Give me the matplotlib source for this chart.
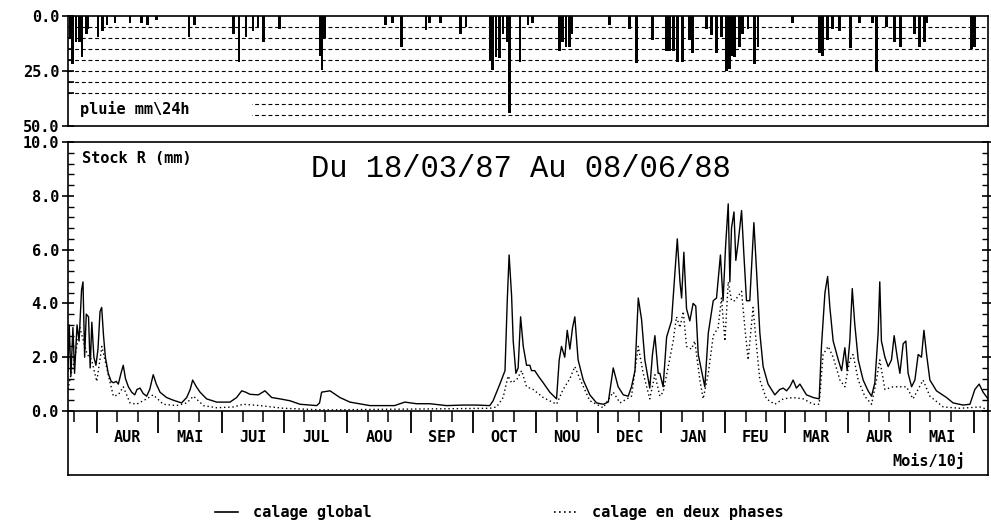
import numpy as np
import matplotlib
matplotlib.use("Agg")
import matplotlib.pyplot as plt
from matplotlib.lines import Line2D
from matplotlib.patches import Rectangle

# ---------------- data (day 0 = 18/03/87) ----------------
rain_day = [1.0, 2.4, 3.9, 5.4, 6.8, 8.8, 9.7, 14.6, 16.6, 19.0, 22.9, 30.2, 36.0, 38.5, 43.3,
            58.9, 61.4, 80.8, 83.3, 86.7, 90.1, 92.5, 95.0, 103.2, 122.7, 123.7, 125.1,
            154.8, 158.2, 162.6, 174.3, 176.2, 181.6, 191.3, 193.8, 205.9, 206.9, 208.4,
            210.3, 211.8, 214.2, 215.2, 220.1, 224.0, 226.4, 239.5, 241.0, 242.5, 244.4,
            245.4, 263.9, 273.6, 277.0, 284.8, 291.6, 293.1, 295.0, 297.0, 299.4, 302.8,
            304.3, 311.1, 313.5, 316.0, 318.4, 320.8, 322.3, 323.3, 324.7, 327.2, 328.6,
            331.1, 334.5, 336.0, 353.0, 366.1, 367.6, 370.0, 372.4, 375.9, 381.2, 385.6,
            391.9, 393.9, 398.7, 402.6, 405.6, 412.4, 414.8, 417.2, 418.2, 440.1, 441.6]
rain_mm = [10, 22, 12, 12, 18.5, 8, 6, 9.4, 7, 4, 3, 3, 3, 4, 2,
           9.4, 4, 8, 20.7, 9.4, 7, 5, 11.7, 6, 18, 24.5, 10,
           4, 3, 14, 6.4, 3, 3, 8, 5, 20, 24.5, 18.5,
           19, 8, 12, 44, 20.7, 4, 3, 16, 12, 14, 14,
           8, 4, 6, 21.5, 11, 16, 16, 16, 20.7, 20.7, 11,
           17, 6, 8.6, 17, 9.5, 25, 24, 18, 18.5, 14, 8,
           6, 22, 14, 3, 17, 18, 11, 6, 7, 14.6, 3,
           3, 25, 5, 12, 14, 8, 14, 12, 3, 15, 14]

global_day = [0.0, 0.6, 1.4, 2.4, 3.2, 4.4, 5.4, 6.6, 7.3, 8.1, 8.9, 10.0, 10.8, 11.6, 12.6,
              13.6, 14.6, 15.6, 16.4, 17.3, 18.2, 19.6, 21.0, 22.1, 23.5, 24.5, 25.8, 26.9,
              28.0, 29.4, 31.0, 32.5, 33.6, 35.1, 36.6, 38.3, 39.8, 41.5, 43.0, 44.8, 48.0,
              51.3, 55.3, 57.8, 59.5, 60.7, 62.5, 64.3, 67.5, 72.4, 78.9, 82.1, 84.6, 86.5,
              88.6, 92.7, 95.9, 99.2, 103.2, 108.1, 113.0, 117.8, 121.1, 122.5, 123.5, 127.6,
              132.4, 137.3, 147.0, 159.0, 164.0, 169.7, 176.2, 184.3, 192.5, 199.0, 205.4,
              207.0, 210.3, 212.8, 213.9, 214.8, 216.0, 216.8, 218.1, 219.2, 220.4, 221.7,
              223.3, 224.9, 225.7, 227.3, 229.0, 231.4, 234.6, 237.9, 239.2, 240.3, 241.9,
              243.1, 244.4, 245.7, 246.8, 248.4, 250.9, 254.1, 257.4, 260.6, 263.1, 265.5,
              267.9, 270.4, 272.8, 274.4, 276.1, 277.7, 279.3, 280.9, 283.3, 284.6, 285.8,
              287.4, 288.2, 289.8, 291.5, 293.9, 295.5, 296.7, 298.0, 298.8, 299.9, 301.2,
              302.8, 304.4, 305.7, 306.9, 308.5, 310.1, 311.8, 314.2, 315.8, 317.7, 319.0,
              320.2, 321.5, 322.3, 323.1, 324.3, 325.2, 326.4, 328.0, 329.1, 330.4, 332.0,
              334.0, 335.3, 336.9, 338.5, 340.9, 344.2, 346.6, 348.3, 349.9, 351.5, 353.1,
              354.7, 356.4, 359.6, 362.9, 365.8, 366.9, 368.6, 369.9, 371.0, 372.6, 375.1,
              376.7, 378.3, 379.4, 380.7, 381.9, 383.1, 384.8, 387.2, 389.6, 391.3, 392.9,
              394.5, 395.3, 396.1, 397.8, 399.4, 401.0, 402.3, 403.8, 405.1, 406.7, 408.0,
              409.1, 410.8, 412.4, 414.0, 415.6, 416.8, 418.1, 419.7, 422.9, 427.8, 431.0,
              435.9, 439.2, 441.6, 443.7, 445.6, 448.0]
global_stock = [1.5, 3.2, 1.3, 3.1, 1.4, 3.2, 2.6, 4.5, 4.8, 2.0, 3.6, 3.5, 1.6, 3.3, 2.0,
                1.7, 2.3, 3.7, 3.85, 2.8, 2.0, 1.4, 1.1, 1.05, 1.1, 1.0, 1.4, 1.7,
                1.2, 0.9, 0.7, 0.6, 0.8, 0.85, 0.65, 0.55, 0.8, 1.35, 1.0, 0.7, 0.5,
                0.4, 0.3, 0.5, 0.8, 1.15, 0.9, 0.7, 0.45, 0.33, 0.33, 0.5, 0.75, 0.7,
                0.62, 0.6, 0.75, 0.5, 0.45, 0.38, 0.25, 0.22, 0.2, 0.3, 0.7, 0.75,
                0.5, 0.33, 0.2, 0.2, 0.33, 0.27, 0.27, 0.2, 0.22, 0.22, 0.2,
                0.38, 1.0, 1.5, 4.1, 5.8, 4.3, 2.6, 1.4, 1.6, 3.5, 2.4,
                1.7, 1.7, 1.5, 1.5, 1.3, 1.05, 0.7, 0.45, 1.9, 2.4, 2.0,
                3.0, 2.3, 3.1, 3.5, 1.9, 1.15, 0.6, 0.3, 0.25, 0.33, 1.6,
                0.9, 0.6, 0.55, 0.9, 1.5, 4.2, 3.4, 1.9, 0.85, 2.1, 2.8,
                1.4, 1.4, 0.9, 2.75, 3.35, 5.1, 6.4, 4.8, 4.2, 5.9, 3.8,
                3.35, 4.0, 3.9, 2.1, 1.5, 0.9, 2.9, 4.1, 4.2, 5.8, 4.1,
                6.1, 7.7, 4.8, 6.8, 7.4, 5.6, 6.3, 7.45, 5.85, 4.1, 4.1,
                7.0, 5.2, 2.9, 1.65, 1.0, 0.6, 0.8, 0.85, 0.75, 0.9, 1.15,
                0.85, 1.0, 0.6, 0.5, 0.45, 2.4, 4.4, 5.0, 3.85, 2.6, 1.9,
                1.5, 2.35, 1.5, 2.6, 4.55, 3.25, 1.9, 1.15, 0.75, 0.55, 1.05,
                2.9, 4.8, 2.6, 2.0, 1.65, 1.9, 2.8, 2.0, 1.4, 2.5, 2.6,
                1.4, 0.9, 1.15, 2.1, 2.0, 3.0, 2.1, 1.15, 0.75, 0.5, 0.3,
                0.22, 0.25, 0.8, 1.0, 0.7, 0.45]

deux_day = [0.0, 1.0, 3.4, 5.8, 7.5, 9.4, 11.5, 14.0, 16.5, 19.6, 22.1, 24.5, 26.9, 30.2,
            33.4, 38.3, 41.5, 46.4, 52.9, 57.8, 61.1, 66.0, 72.4, 80.5, 85.4, 93.5, 104.9,
            121.1, 127.6, 150.0, 180.0, 205.4, 208.7, 211.9, 214.3, 216.0, 218.4, 220.9,
            223.3, 226.5, 231.4, 237.9, 241.1, 244.4, 246.8, 249.2, 254.1, 260.6, 265.5,
            268.8, 274.4, 277.7, 280.1, 283.3, 285.8, 288.2, 289.8, 292.3, 294.7, 296.3,
            298.0, 299.6, 301.2, 303.6, 305.2, 307.7, 309.3, 311.8, 314.2, 316.6, 318.2,
            319.9, 321.5, 323.1, 324.7, 328.0, 329.6, 331.2, 333.6, 335.3, 336.9, 340.1,
            344.2, 348.3, 353.1, 358.0, 362.9, 365.8, 367.7, 370.2, 372.6, 375.9, 378.3,
            380.7, 382.3, 384.8, 388.0, 391.3, 393.7, 395.3, 397.8, 401.8, 405.1, 408.3,
            411.5, 416.4, 419.7, 426.2, 434.3, 444.0, 448.0]
deux_stock = [0.8, 1.2, 2.0, 3.1, 2.6, 2.1, 1.9, 1.1, 2.4, 1.35, 0.55, 0.6, 0.9, 0.3,
              0.25, 0.45, 0.6, 0.25, 0.2, 0.3, 0.55, 0.2, 0.12, 0.15, 0.25, 0.2, 0.1,
              0.05, 0.04, 0.06, 0.08, 0.1, 0.15, 0.5, 1.3, 1.05, 1.15, 1.5,
              0.9, 0.8, 0.5, 0.25, 0.8, 1.2, 1.65, 1.2, 0.38, 0.12, 0.7,
              0.3, 0.55, 2.4, 1.4, 0.45, 1.35, 0.55, 0.7, 1.65, 2.6, 3.5,
              3.1, 3.7, 2.4, 2.3, 2.6, 1.15, 0.45, 1.4, 2.8, 3.1, 4.2,
              2.6, 4.8, 4.1, 4.1, 4.45, 3.1, 1.9, 3.85, 2.4, 1.15, 0.45,
              0.25, 0.45, 0.5, 0.45, 0.25, 0.25, 2.1, 2.4, 2.0, 1.15, 0.9,
              1.9, 2.1, 1.15, 0.55, 0.25, 1.15, 1.9, 0.8, 0.9, 0.9, 0.9,
              0.45, 1.15, 0.55, 0.15, 0.1, 0.15, 0.05]

month_labels = ["AUR", "MAI", "JUI", "JUL", "AOU", "SEP", "OCT", "NOU", "DEC",
                "JAN", "FEU", "MAR", "AUR", "MAI"]
y_ticks_stock = [0.0, 2.0, 4.0, 6.0, 8.0, 10.0]
y_ticks_rain = [0.0, 25.0, 50.0]

# ---------------- date helpers (axis ticks) ----------------
t0 = np.datetime64("1987-03-18")
t_end = np.datetime64("1988-06-08")
n_days = float((t_end - t0).astype(int))
month_starts = np.arange(np.datetime64("1987-04"), np.datetime64("1988-07"),
                         np.timedelta64(1, "M")).astype("datetime64[D]")
ms_days = (month_starts - t0).astype(int).astype(float)
dec_days = []
for m in month_starts:
    for off in (10, 20):
        dec_days.append(float(((m + np.timedelta64(off, "D")) - t0).astype(int)))
dec_days = [3.0] + [d for d in dec_days if d <= n_days]
mid_days = (ms_days[:-1] + ms_days[1:]) / 2.0

# ---------------- figure ----------------
plt.rcParams["font.family"] = ["DejaVu Sans Mono", "DejaVu Sans"]
plt.rcParams["font.weight"] = "bold"
W, H = 991, 522
fig = plt.figure(figsize=(W / 100, H / 100), dpi=100)
L, R = 68, 988
ax_r = fig.add_axes([L / W, 1 - 126 / H, (R - L) / W, 110 / H])
ax_s = fig.add_axes([L / W, 1 - 475 / H, (R - L) / W, 333 / H])

# rain panel
for v in range(5, 50, 5):
    ax_r.axhline(v, color="black", lw=0.8, dashes=(3.5, 2.5), zorder=1)
ax_r.add_patch(Rectangle((0, 0.04), 0.2, 0.21, transform=ax_r.transAxes,
                         facecolor="white", edgecolor="none", zorder=2))
ax_r.bar(rain_day, rain_mm, width=1.4, color="black", align="center", zorder=3)
ax_r.set_xlim(0, n_days)
ax_r.set_ylim(50, 0)
ax_r.set_xticks([])
ax_r.set_yticks(y_ticks_rain)
ax_r.set_yticklabels(["%.1f" % v for v in y_ticks_rain])
ax_r.set_yticks(np.arange(5, 50, 5), minor=True)
ax_r.tick_params(axis="y", which="major", direction="inout", length=8, width=1.2,
                 labelsize=11, pad=2)
ax_r.tick_params(axis="y", which="minor", direction="in", length=4, width=1.2)
ax_r.text(12 / (R - L), 0.155, "pluie mm\\24h", transform=ax_r.transAxes,
          fontsize=11, fontweight="bold", va="center", ha="left", zorder=4)
for sp in ax_r.spines.values():
    sp.set_linewidth(1.2)

# stock panel
ax_s.plot(global_day, global_stock, color="black", lw=1.0)
ax_s.plot(deux_day, deux_stock, color="black", lw=1.0, ls=(0, (1, 2)))
ax_s.set_xlim(0, n_days)
ax_s.set_ylim(-2.38, 10)
ax_s.set_yticks(y_ticks_stock)
ax_s.set_yticklabels(["%.1f" % v for v in y_ticks_stock])
ax_s.set_yticks(np.arange(0, 10.01, 0.4), minor=True)
ax_s.tick_params(axis="y", which="major", direction="inout", length=9, width=1.2,
                 labelsize=11, pad=2, right=True)
ax_s.tick_params(axis="y", which="minor", direction="in", length=4, width=1.0, right=True)
ax_s.spines["bottom"].set_position(("data", 0))
ax_s.set_xticks(ms_days)
ax_s.set_xticks(dec_days, minor=True)
ax_s.tick_params(axis="x", which="major", direction="out", length=16, width=1.3,
                 labelbottom=False)
ax_s.tick_params(axis="x", which="minor", direction="out", length=8, width=1.1,
                 labelbottom=False)
for sp in ax_s.spines.values():
    sp.set_linewidth(1.2)
ax_s.plot([0, 1], [0, 0], transform=ax_s.transAxes, color="black", lw=1.2, clip_on=False)
for d, lab in zip(mid_days, month_labels):
    ax_s.text(d, -0.97, lab, ha="center", va="center", fontsize=11, fontweight="bold")
ax_s.text(0.975, 0.042, "Mois/10j", transform=ax_s.transAxes, ha="right", va="center",
          fontsize=11, fontweight="bold")
ax_s.text(14 / (R - L), 0.949, "Stock R (mm)", transform=ax_s.transAxes, ha="left",
          va="center", fontsize=11, fontweight="bold")
ax_s.text(0.4924, 0.919, "Du 18/03/87 Au 08/06/88", transform=ax_s.transAxes,
          ha="center", va="center", fontsize=22, fontweight="normal",
          family=["Liberation Mono", "DejaVu Sans Mono"])

# legend
handles = [Line2D([], [], color="black", lw=1.2),
           Line2D([], [], color="black", lw=1.2, ls=(0, (1, 2)))]
fig.legend(handles, ["calage global", "calage en deux phases"], ncol=2,
           loc="center left", bbox_to_anchor=(215 / W, 1 - 513 / H), frameon=False,
           borderpad=0, borderaxespad=0, handlelength=1.5, handletextpad=1.0,
           columnspacing=11.9, prop={"family": "DejaVu Sans Mono", "weight": "bold",
                                      "size": 11})

fig.savefig("out.png", dpi=100)
